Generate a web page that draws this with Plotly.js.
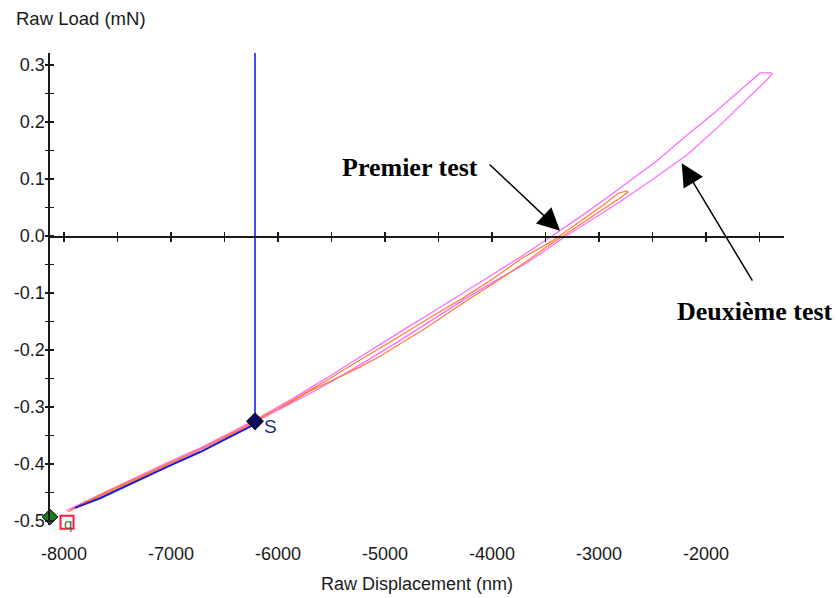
<!DOCTYPE html>
<html>
<head>
<meta charset="utf-8">
<script src="https://cdn.plot.ly/plotly-3.0.1.min.js"></script>
<style>html,body{margin:0;padding:0;background:#fff;}#chart{width:838px;height:598px;}</style>
</head>
<body>
<div id="chart"></div>
<script>
// ---- data (Raw Displacement nm, Raw Load mN) ----
const test2LoadX = [-7981,-7664,-7355,-7037,-6729,-6467,-6215,-5888,-5542,-5308,-5075,-4813,-4551,-4271,-3991,-3720,-3439,-3150,-2869,-2664,-2458,-2196,-1935,-1710,-1495,-1393];
const test2LoadY = [-0.482,-0.453,-0.426,-0.398,-0.372,-0.347,-0.323,-0.288,-0.249,-0.221,-0.193,-0.163,-0.133,-0.100,-0.067,-0.035,0.000,0.037,0.075,0.104,0.132,0.174,0.214,0.251,0.286,0.286];
const test2UnloadX = [-1383,-1430,-1607,-1888,-2178,-2477,-2804,-3084,-3308,-3673,-3991,-4299,-4617,-4925,-5234,-5486,-5729,-5981,-6215,-6467,-6729,-7037,-7355,-7664,-7944];
const test2UnloadY = [0.284,0.274,0.242,0.191,0.142,0.102,0.060,0.026,0.000,-0.047,-0.081,-0.116,-0.154,-0.191,-0.226,-0.254,-0.279,-0.304,-0.326,-0.351,-0.375,-0.402,-0.430,-0.456,-0.481];

const test1LoadX = [-7963,-7664,-7355,-7037,-6729,-6467,-6215,-5888,-5542,-5308,-5075,-4813,-4551,-4271,-3991,-3720,-3439,-3178,-2963,-2822,-2738];
const test1LoadY = [-0.484,-0.456,-0.430,-0.402,-0.375,-0.351,-0.326,-0.291,-0.253,-0.226,-0.200,-0.170,-0.140,-0.109,-0.075,-0.039,-0.009,0.026,0.054,0.075,0.079];
const test1UnloadX = [-2729,-2794,-2944,-3131,-3336,-3505,-3673,-3991,-4299,-4607,-4860,-5047,-5234,-5514,-5701,-5916,-6103,-6215,-6467,-6729,-7037,-7355,-7664,-7925];
const test1UnloadY = [0.077,0.068,0.049,0.025,0.000,-0.021,-0.044,-0.084,-0.121,-0.160,-0.189,-0.211,-0.230,-0.256,-0.272,-0.296,-0.312,-0.325,-0.349,-0.374,-0.400,-0.428,-0.454,-0.479];

const segmentX = [-6215,-6467,-6729,-7037,-7355,-7664,-7897];
const segmentY = [-0.330,-0.354,-0.379,-0.405,-0.433,-0.460,-0.477];

const cursorX = -6215;          // vertical cursor / point S
const pointS = {x: -6215, y: -0.325, label: 'S'};
const pointStart = {x: -8131, y: -0.493};
const pointQ = {x: -7972, y: -0.502, label: 'q'};

const xTickVals = [-8000,-7000,-6000,-5000,-4000,-3000,-2000];
const xTickText = ['-8000','-7000','-6000','-5000','-4000','-3000','-2000'];
const yTickVals = [0.3,0.2,0.1,0.0,-0.1,-0.2,-0.3,-0.4,-0.5];
const yTickText = ['0.3','0.2','0.1','0.0','-0.1','-0.2','-0.3','-0.4','-0.5'];

const xRange = [-8131, -1271];
const yRange = [-0.507, 0.321];

const arrow1 = {text: 'Premier test', tx: -4766, ty: 0.121, tailX: -4037, tailY: 0.128, tipX: -3364, tipY: 0.009};
const arrow2 = {text: 'Deuxième test', tx: -1542, ty: -0.133, tailX: -1558, tailY: -0.081, tipX: -2227, tipY: 0.1275};

// ---- styling ----
const PINK = '#ff6cff', ORANGE = '#ff7b3a', BLUE = '#1010ee';
const AX = '#1a1a1a';
const sansFont = {family: 'Liberation Sans, Arial, sans-serif', size: 18, color: '#1a1a1a'};
const serifBold = {family: 'Liberation Serif, Times New Roman, serif', size: 26, color: '#000'};

const traces = [
  {x: test2LoadX.concat(test2UnloadX), y: test2LoadY.concat(test2UnloadY), mode: 'lines', line: {color: PINK, width: 1.3}, hoverinfo: 'skip'},
  {x: test1LoadX.concat(test1UnloadX), y: test1LoadY.concat(test1UnloadY), mode: 'lines', line: {color: ORANGE, width: 1.2}, hoverinfo: 'skip'},
  {x: segmentX, y: segmentY, mode: 'lines', line: {color: '#1a1ad0', width: 2}, hoverinfo: 'skip'},
  {x: [cursorX, cursorX], y: [yRange[1], pointS.y], mode: 'lines', line: {color: BLUE, width: 1.5}, hoverinfo: 'skip'},
  {x: [pointS.x], y: [pointS.y], mode: 'markers', cliponaxis: false,
   marker: {symbol: 'diamond', size: 13, color: '#0a0a60', line: {color: '#000', width: 1}}},
  {x: [pointStart.x], y: [pointStart.y], mode: 'markers', cliponaxis: false,
   marker: {symbol: 'diamond', size: 12, color: '#1e7a1e', line: {color: '#000', width: 1}}},
  {x: [pointQ.x], y: [pointQ.y], mode: 'markers', cliponaxis: false,
   marker: {symbol: 'square-open', size: 13, color: '#ff1a3c', line: {width: 2}}},
  // dummy traces to host the overlay axes
  {x: [], y: [], xaxis: 'x2', yaxis: 'y', hoverinfo: 'skip'},
  {x: [], y: [], xaxis: 'x3', yaxis: 'y', hoverinfo: 'skip'},
  {x: [], y: [], xaxis: 'x', yaxis: 'y2', hoverinfo: 'skip'},
  {x: [], y: [], xaxis: 'x', yaxis: 'y3', hoverinfo: 'skip'}
];

const zeroPos = (0 - yRange[0]) / (yRange[1] - yRange[0]);

const tickAxisX = (dir) => ({
  overlaying: 'x', anchor: 'free', position: zeroPos, side: 'bottom', range: xRange,
  showline: true, linecolor: AX, linewidth: 1.6, showgrid: false, zeroline: false,
  tickmode: 'linear', tick0: -8000, dtick: 500, ticks: dir, ticklen: 4, tickwidth: 1.6, tickcolor: AX,
  showticklabels: false, fixedrange: true
});
const tickAxisY = (dir) => ({
  overlaying: 'y', anchor: 'x', side: 'left', range: yRange,
  showline: false, showgrid: false, zeroline: false,
  tickmode: 'linear', tick0: 0, dtick: 0.05, ticks: dir, ticklen: 4, tickwidth: 1.6, tickcolor: AX,
  showticklabels: false, fixedrange: true
});

const layout = {
  width: 838, height: 598,
  margin: {l: 50, r: 54, t: 53, b: 73},
  paper_bgcolor: '#fff', plot_bgcolor: '#fff',
  showlegend: false,
  font: sansFont,
  xaxis: {
    range: xRange, showline: false, showgrid: false, zeroline: false, ticks: '',
    tickmode: 'array', tickvals: xTickVals, ticktext: xTickText, ticklabelstandoff: 16,
    tickfont: sansFont, automargin: false,
    title: {text: 'Raw Displacement (nm)', font: {family: sansFont.family, size: 18, color: '#1a1a1a'}, standoff: 14}
  },
  xaxis2: tickAxisX('outside'),
  xaxis3: tickAxisX('inside'),
  yaxis: {
    range: yRange, showline: true, linecolor: AX, linewidth: 1.6, showgrid: false, zeroline: false,
    ticks: '', tickmode: 'array', tickvals: yTickVals, ticktext: yTickText, ticklabelstandoff: 0,
    tickfont: sansFont, automargin: false
  },
  yaxis2: tickAxisY('outside'),
  yaxis3: tickAxisY('inside'),
  annotations: [
    {xref: 'paper', yref: 'paper', x: -36/734, y: (472 + 35) / 472, xanchor: 'left', yanchor: 'middle',
     text: 'Raw Load (mN)', showarrow: false, font: {family: sansFont.family, size: 18.5, color: '#1a1a1a'}},
    {x: pointS.x, y: pointS.y, xref: 'x', yref: 'y', text: pointS.label, showarrow: false,
     xshift: 15, yshift: -5, font: {family: sansFont.family, size: 19, color: '#1c2a88'}},
    {x: pointQ.x, y: pointQ.y, xref: 'x', yref: 'y', text: pointQ.label, showarrow: false,
     xshift: 1, yshift: -1, font: {family: sansFont.family, size: 15, color: '#3f7a3f'}},
    {x: arrow1.tx, y: arrow1.ty, xref: 'x', yref: 'y', text: '<b>' + arrow1.text + '</b>', showarrow: false, font: serifBold},
    {x: arrow2.tx, y: arrow2.ty, xref: 'x', yref: 'y', text: '<b>' + arrow2.text + '</b>', showarrow: false, font: serifBold},
    {x: arrow1.tipX, y: arrow1.tipY, ax: arrow1.tailX, ay: arrow1.tailY, xref: 'x', yref: 'y', axref: 'x', ayref: 'y',
     text: '', showarrow: true, arrowhead: 2, arrowsize: 3, arrowwidth: 1.5, arrowcolor: '#000', standoff: 0},
    {x: arrow2.tipX, y: arrow2.tipY, ax: arrow2.tailX, ay: arrow2.tailY, xref: 'x', yref: 'y', axref: 'x', ayref: 'y',
     text: '', showarrow: true, arrowhead: 2, arrowsize: 3, arrowwidth: 1.5, arrowcolor: '#000', standoff: 0}
  ]
};

Plotly.newPlot('chart', traces, layout, {staticPlot: true, displayModeBar: false});
</script>
</body>
</html>
